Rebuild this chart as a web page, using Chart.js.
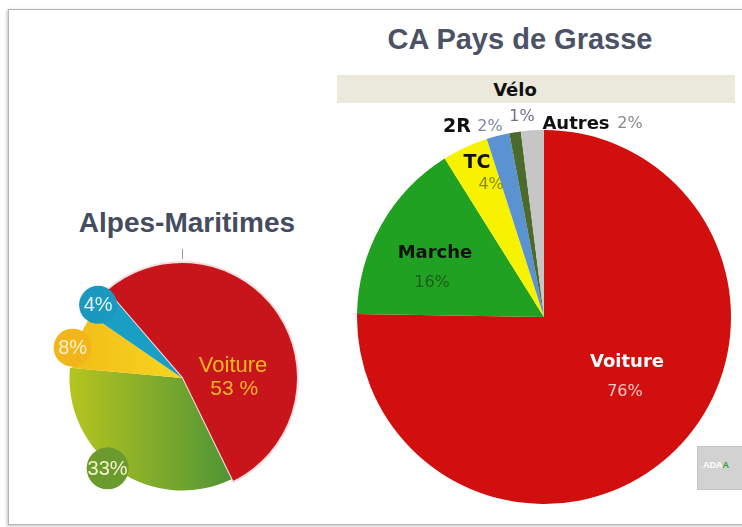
<!DOCTYPE html>
<html>
<head>
<meta charset="utf-8">
<script src="https://cdn.jsdelivr.net/npm/chart.js@4.4.1/dist/chart.umd.min.js"></script>
<style>
html,body{margin:0;padding:0;background:#fff;width:742px;height:527px;overflow:hidden;position:relative;font-family:"Liberation Sans",Arial,sans-serif;}
#frame{position:absolute;left:8px;top:9px;width:760px;height:514px;border:1px solid #b5b5b5;box-shadow:-1px 1px 3px rgba(0,0,0,0.25);background:#fff;}
.txt{position:absolute;white-space:nowrap;line-height:1;}
#tGrasse{left:320px;width:400px;top:25px;text-align:center;font-weight:bold;font-size:29px;color:#4b5266;}
#tAM{left:37px;width:300px;top:209px;text-align:center;font-weight:bold;font-size:28px;color:#454c5f;}
#band{position:absolute;left:337px;top:75px;width:398px;height:28px;background:#ebe8dc;}
#tVelo{left:465px;width:100px;top:81px;text-align:center;font-family:"DejaVu Sans",sans-serif;font-weight:bold;font-size:18px;color:#111;}
#tick{position:absolute;left:182px;top:249px;width:1px;height:10px;background:#9a9a9a;}
#logo{position:absolute;left:697px;top:446px;width:45px;height:42px;background:#d2d2d2;border:1px solid #c4c4c4;font-size:9px;font-weight:bold;color:#fff;}
#logo span{position:absolute;top:13px;left:5px;}
#logo b{color:#3a9a3a;}
canvas{position:absolute;}
#cAM{left:32px;top:228px;}
#cGP{left:340px;top:60px;}
</style>
</head>
<body>
<div id="frame"></div>
<div id="band"></div>
<div class="txt" id="tGrasse">CA Pays de Grasse</div>
<div class="txt" id="tVelo">Vélo</div>
<div class="txt" id="tAM">Alpes-Maritimes</div>
<div id="tick"></div>
<div id="logo"><span>ADA<b>A</b></span></div>
<canvas id="cAM" width="300" height="300"></canvas>
<canvas id="cGP" width="408" height="514"></canvas>
<script>
// ---- Data: Alpes-Maritimes ----
const amCategories = ['Voiture', 'Marche', 'TC', '2R'];
const amValues = [53, 33, 8, 4];
const amValueLabels = ['53 %', '33%', '8%', '4%'];

// ---- Data: CA Pays de Grasse ----
const gpCategories = ['Voiture', 'Marche', 'TC', '2R', 'Vélo', 'Autres'];
const gpValues = [76, 16, 4, 2, 1, 2];
const gpValueLabels = ['76%', '16%', '4%', '2%', '1%', '2%'];

// ---- Styles ----
const gpColors = ['#d10f0f', '#21a121', '#f7f200', '#5b92d2', '#4c6a2c', '#c6c6c6'];
const amSolid = ['#c8151c', '#7fae2a', '#f5c81c', '#1a9ec4'];

const sliceRadiusPlugin = {
  id: 'sliceRadius',
  afterDatasetsUpdate(chart, args, opts) {
    if (!opts.scale) return;
    const meta = chart.getDatasetMeta(0);
    meta.data.forEach((arc, i) => {
      const s = opts.scale[i] ?? 1;
      arc.outerRadius = meta.controller.outerRadius * s;
    });
  }
};

const sliceLabelPlugin = {
  id: 'sliceLabels',
  afterDatasetsDraw(chart, args, opts) {
    const meta = chart.getDatasetMeta(0);
    const c = chart.ctx;
    const R = meta.controller.outerRadius;
    const cx = meta.data[0].x, cy = meta.data[0].y;
    c.save();
    c.textAlign = 'center';
    c.textBaseline = 'middle';
    (opts.bubbles || []).forEach(b => {
      const arc = meta.data[b.index];
      const a = arc.startAngle + (arc.endAngle - arc.startAngle) * b.at;
      const r = arc.outerRadius * b.dist;
      const x = cx + Math.cos(a) * r, y = cy + Math.sin(a) * r;
      c.beginPath();
      c.arc(x, y, b.size, 0, Math.PI * 2);
      c.fillStyle = b.color;
      c.fill();
      c.font = b.font;
      c.fillStyle = b.textColor;
      c.fillText(b.text, x, y + 1);
    });
    (opts.texts || []).forEach(t => {
      c.font = t.font;
      c.fillStyle = t.color;
      c.fillText(t.text, cx + t.ux * R, cy + t.uy * R);
    });
    c.restore();
  }
};

function amColor(ctx) {
  const i = ctx.dataIndex;
  const chart = ctx.chart;
  if (i === 1 && chart.chartArea) {
    const g = chart.ctx.createLinearGradient(40, 0, 200, 0);
    g.addColorStop(0, '#b4c41f');
    g.addColorStop(1, '#4f9436');
    return g;
  }
  if (i === 2 && chart.chartArea) {
    const g = chart.ctx.createLinearGradient(40, 0, 150, 0);
    g.addColorStop(0, '#f2bd1a');
    g.addColorStop(1, '#f8d41e');
    return g;
  }
  return amSolid[i];
}

new Chart(document.getElementById('cAM'), {
  type: 'pie',
  data: {
    labels: amCategories,
    datasets: [{
      data: amValues,
      backgroundColor: amColor,
      borderColor: ['#f4dede', '#ffffff', '#ffffff', '#ffffff'],
      borderWidth: [2, 0, 0, 0]
    }]
  },
  options: {
    responsive: false,
    animation: false,
    radius: 116,
    rotation: -40.7,
    layout: { padding: 0 },
    events: [],
    plugins: {
      legend: { display: false },
      tooltip: { enabled: false },
      sliceRadius: { scale: [1, 0.97, 0.95, 0.95] },
      sliceLabels: {
        bubbles: [
          { index: 1, at: 0.54, dist: 1.04, size: 21, color: '#6b9b2c', text: amValueLabels[1], font: '20px "Liberation Sans"', textColor: '#f7f1cf' },
          { index: 2, at: 0.35, dist: 1.03, size: 19, color: '#f2b51a', text: amValueLabels[2], font: '20px "Liberation Sans"', textColor: '#fbf1d4' },
          { index: 3, at: 0.44, dist: 1.01, size: 19, color: '#1b98bf', text: amValueLabels[3], font: '20px "Liberation Sans"', textColor: '#e6f4f8' }
        ],
        texts: [
          { text: amCategories[0], ux: 0.44, uy: -0.10, font: '22px "Liberation Sans"', color: '#f4b623' },
          { text: amValueLabels[0], ux: 0.45, uy: 0.10, font: '21px "Liberation Sans"', color: '#f4b623' }
        ]
      }
    }
  },
  plugins: [sliceRadiusPlugin, sliceLabelPlugin]
});

const bold = 'bold 18px "DejaVu Sans"';
const bold19 = 'bold 19px "DejaVu Sans"';
const reg = '16px "DejaVu Sans"';

new Chart(document.getElementById('cGP'), {
  type: 'pie',
  data: {
    labels: gpCategories,
    datasets: [{
      data: gpValues,
      backgroundColor: gpColors,
      borderWidth: 0
    }]
  },
  options: {
    responsive: false,
    animation: false,
    radius: 187,
    layout: { padding: 0 },
    events: [],
    plugins: {
      legend: { display: false },
      tooltip: { enabled: false },
      sliceLabels: {
        texts: [
          { text: gpCategories[0], ux: 0.444, uy: 0.241, font: bold, color: '#ffffff' },
          { text: gpValueLabels[0], ux: 0.433, uy: 0.401, font: reg, color: '#f2c4c4' },
          { text: gpCategories[1], ux: -0.583, uy: -0.342, font: bold, color: '#111111' },
          { text: gpValueLabels[1], ux: -0.599, uy: -0.182, font: reg, color: '#1b5e1b' },
          { text: gpCategories[2], ux: -0.358, uy: -0.824, font: bold19, color: '#111111' },
          { text: gpValueLabels[2], ux: -0.283, uy: -0.706, font: reg, color: '#8c8a1c' },
          { text: gpCategories[3], ux: -0.465, uy: -1.016, font: bold19, color: '#111111' },
          { text: gpValueLabels[3], ux: -0.289, uy: -1.016, font: reg, color: '#7d86a3' },
          { text: gpValueLabels[4], ux: -0.118, uy: -1.07, font: reg, color: '#6f6f86' },
          { text: gpCategories[5], ux: 0.171, uy: -1.032, font: bold, color: '#111111' },
          { text: gpValueLabels[5], ux: 0.46, uy: -1.032, font: reg, color: '#888888' }
        ]
      }
    }
  },
  plugins: [sliceLabelPlugin]
});
</script>
</body>
</html>
